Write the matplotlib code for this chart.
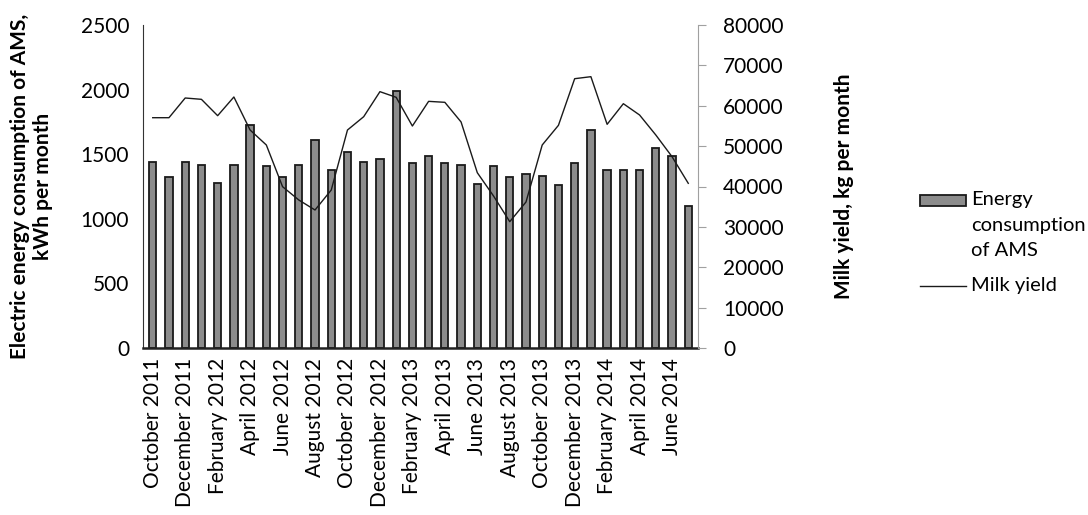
import matplotlib.pyplot as plt
import numpy as np
from matplotlib.lines import Line2D
from matplotlib.patches import Rectangle

plt.rcParams['font.family'] = ['Lato', 'DejaVu Sans']

months = ['October', 'November', 'December', 'January', 'February', 'March',
          'April', 'May', 'June', 'July', 'August', 'September']
month_labels = []
year = 2011
for i in range(34):
    m = months[i % 12]
    if m == 'January':
        year += 1
    month_labels.append(f'{m} {year}')

energy = [1442, 1323, 1442, 1419, 1277, 1419, 1729, 1411, 1323, 1419, 1607, 1375,
          1517, 1442, 1465, 1992, 1432, 1486, 1432, 1419, 1267, 1409, 1323, 1344,
          1334, 1262, 1432, 1690, 1380, 1380, 1375, 1550, 1486, 1101]

milk = [57040, 57040, 61920, 61590, 57540, 62170, 53990, 50280, 39960, 36660, 34180, 39130,
        53990, 57290, 63490, 62090, 54980, 61090, 60850, 55980, 43420, 37650, 31290, 36160,
        50280, 55150, 66700, 67200, 55400, 60510, 57710, 52760, 47380, 40790]

x = np.arange(len(energy))
W, H = 1088, 515
FS = 15

fig = plt.figure(figsize=(W / 100, H / 100), dpi=100)
ax = fig.add_axes([143 / W, 1 - 348 / H, 555 / W, 323 / H])
ax2 = ax.twinx()

ax.bar(x, energy, width=0.45, color='#8c8c8c', edgecolor='#1a1a1a', linewidth=1.3, zorder=2)
ax2.plot(x, milk, color='#1a1a1a', linewidth=1.0, zorder=3)

ax.set_xlim(-0.6, len(energy) - 0.4)
ax.set_ylim(0, 2500)
ax2.set_ylim(0, 80000)
ax.set_yticks(np.arange(0, 2501, 500))
ax2.set_yticks(np.arange(0, 80001, 10000))

ax.set_xticks(x[::2])
ax.set_xticklabels(month_labels[::2], rotation=90, fontsize=FS)
ax.tick_params(axis='x', length=0, pad=7)
ax.tick_params(axis='y', length=0, labelsize=FS, pad=10)
ax2.tick_params(axis='y', length=6, color='#a0a0a0', labelsize=FS, pad=12)

for a in (ax, ax2):
    a.spines['top'].set_visible(False)
ax.spines['right'].set_visible(False)
ax2.spines['left'].set_visible(False)
ax2.spines['bottom'].set_visible(False)
ax.spines['left'].set_color('#333333')
ax.spines['bottom'].set_color('#222222')
ax.spines['bottom'].set_linewidth(1.8)
ax2.spines['right'].set_color('#a0a0a0')

ax.set_ylabel('Electric energy consumption of AMS,\nkWh per month', fontsize=FS,
              fontweight='bold', labelpad=20)
ax2.set_ylabel('Milk yield, kg per month', fontsize=FS, fontweight='bold', labelpad=36)

# legend drawn by hand so the bar key sits on the first text line
fig.add_artist(Rectangle((920 / W, 1 - 206 / H), 46 / W, 11 / H, transform=fig.transFigure,
                         facecolor='#8c8c8c', edgecolor='#1a1a1a', linewidth=1.3))
fig.add_artist(Line2D([920 / W, 966 / W], [1 - 286 / H, 1 - 286 / H], transform=fig.transFigure,
                      color='#1a1a1a', linewidth=1.0))
for txt, yy in [('Energy', 200), ('consumption', 226), ('of AMS', 251), ('Milk yield', 286)]:
    fig.text(971 / W, 1 - yy / H, txt, fontsize=FS - 0.5, va='center', ha='left')

fig.savefig('out.png', dpi=100)
